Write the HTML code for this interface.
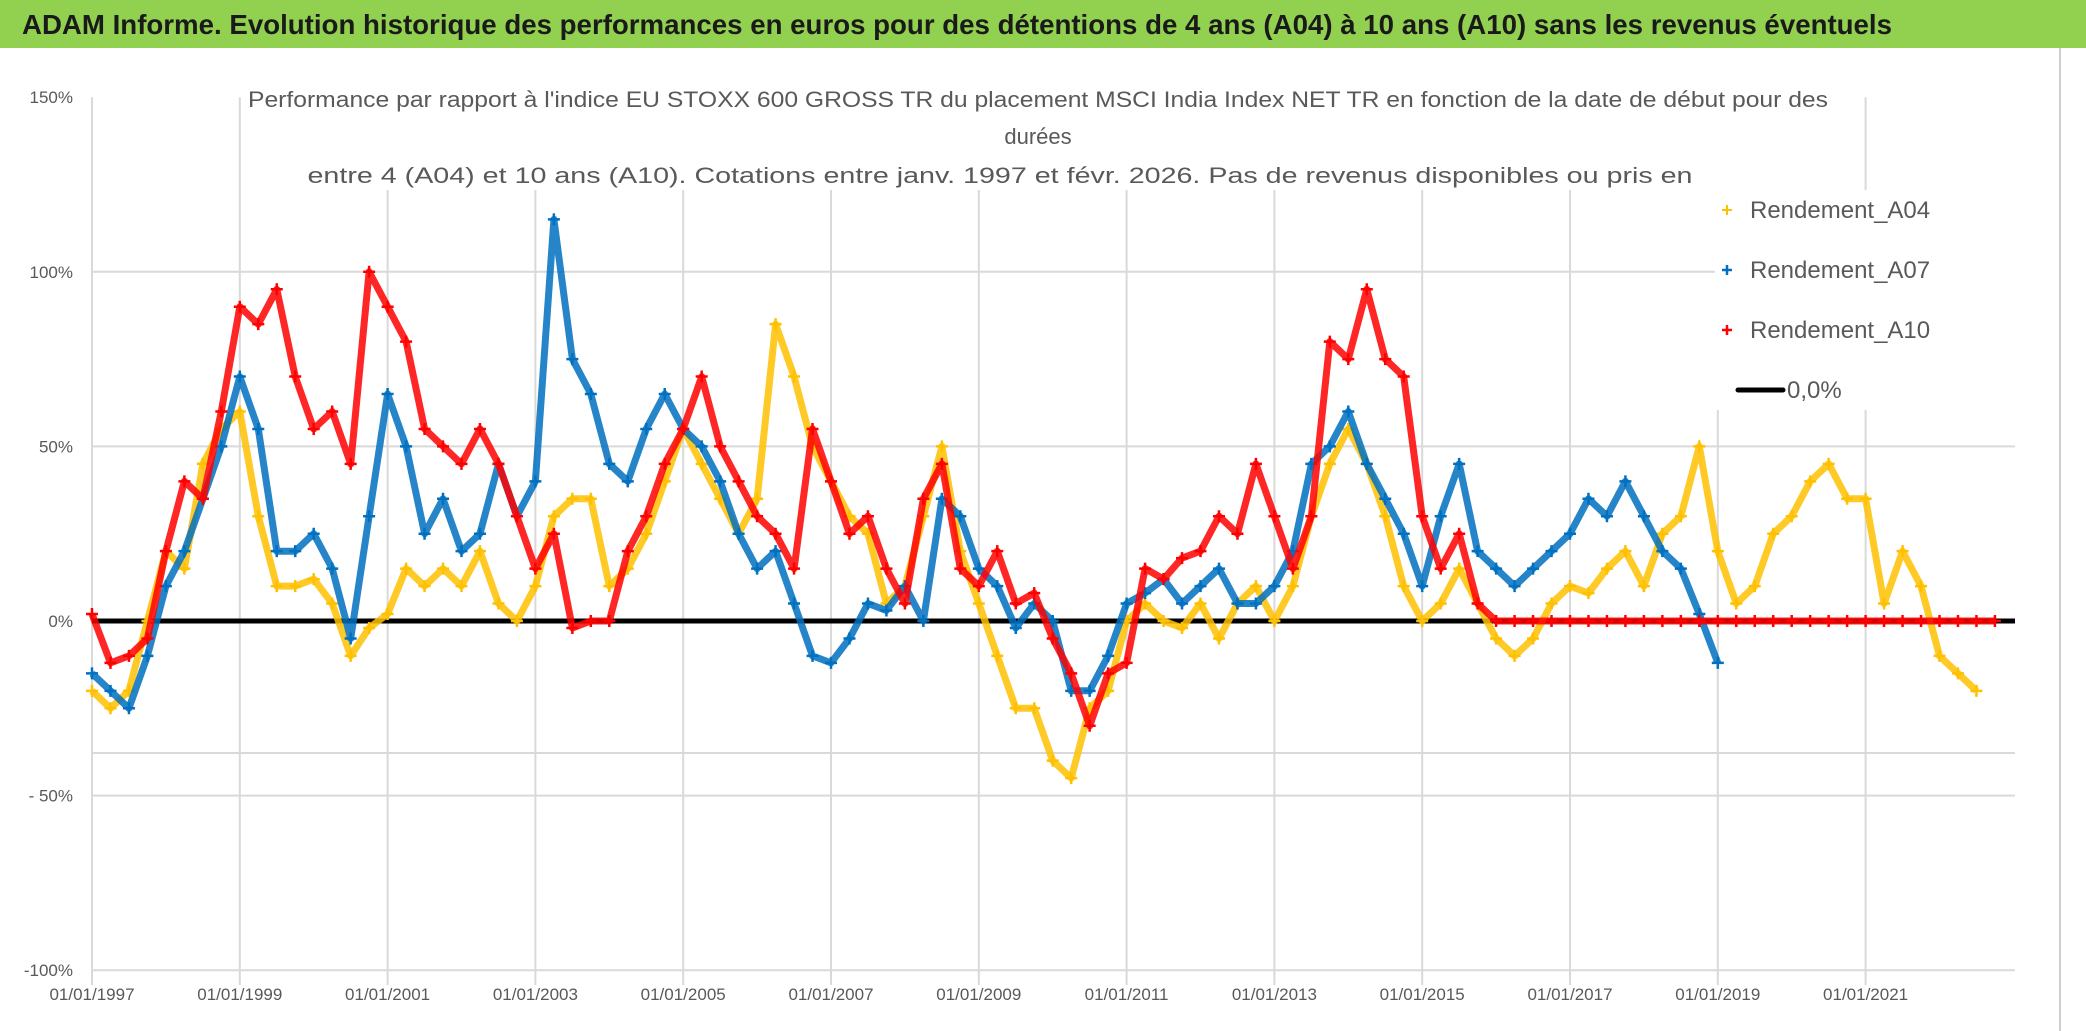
<!DOCTYPE html>
<html><head><meta charset="utf-8"><style>
html,body{margin:0;padding:0;background:#fff;}
svg{display:block;font-family:"Liberation Sans",sans-serif;}
</style></head><body>
<svg id="chart" width="2086" height="1031" viewBox="0 0 2086 1031" xmlns="http://www.w3.org/2000/svg">
<rect x="0" y="0" width="2086" height="1031" fill="#fff"/>
<rect x="0" y="0" width="2086" height="48" fill="#92D050"/>
<text x="22" y="34" font-size="28" font-weight="bold" fill="#1a1a1a" textLength="1870" lengthAdjust="spacingAndGlyphs">ADAM Informe. Evolution historique des performances en euros pour des détentions de 4 ans (A04) à 10 ans (A10) sans les revenus éventuels</text>
<line x1="2060" y1="48" x2="2060" y2="1031" stroke="#cfcfcf" stroke-width="2"/>
<g id="grid"></g>
<g id="yticks"></g>
<g id="xticks"></g>
<g id="series"></g>
<rect x="245" y="82" width="1590" height="108" fill="#fff"/>
<g fill="#595959" font-size="22" text-anchor="middle">
<text x="1038" y="107" textLength="1580" lengthAdjust="spacingAndGlyphs">Performance par rapport à l'indice EU STOXX 600 GROSS TR  du placement MSCI India Index NET TR en fonction de la date de début pour des</text>
<text x="1038" y="144">durées</text>
<text x="1000" y="183" textLength="1385" lengthAdjust="spacingAndGlyphs">entre 4 (A04) et 10 ans (A10). Cotations entre janv. 1997 et févr. 2026. Pas de revenus disponibles ou pris en</text>
</g>
<rect x="1715" y="190" width="300" height="220" fill="#fff"/>
<g font-size="24" fill="#595959">
<g><path d="M1722 210h10M1727 205v10" stroke="#FFC000" stroke-width="2"/><text x="1750" y="218">Rendement_A04</text></g>
<g><path d="M1722 270h10M1727 265v10" stroke="#0070C0" stroke-width="2.5"/><text x="1750" y="278">Rendement_A07</text></g>
<g><path d="M1722 330h10M1727 325v10" stroke="#FF0000" stroke-width="2.5"/><text x="1750" y="338">Rendement_A10</text></g>
<g><line x1="1738" y1="390" x2="1783" y2="390" stroke="#000" stroke-width="5" stroke-linecap="round"/><text x="1787" y="398">0,0%</text></g>
</g>
</svg>
<script>
const startYear = 1997;
const stepYears = 0.25;
const a04Values = [-20,-25,-20,0,20,15,45,55,60,30,10,10,12,5,-10,-2,2,15,10,15,10,20,5,0,10,30,35,35,10,15,25,40,55,45,35,25,35,85,70,50,40,30,25,5,10,30,50,20,5,-10,-25,-25,-40,-45,-25,-20,0,5,0,-2,5,-5,5,10,0,10,30,45,55,45,30,10,0,5,15,5,-5,-10,-5,5,10,8,15,20,10,25,30,50,20,5,10,25,30,40,45,35,35,5,20,10,-10,-15,-20];
const a07Values = [-15,-20,-25,-10,10,20,35,50,70,55,20,20,25,15,-5,30,65,50,25,35,20,25,45,30,40,115,75,65,45,40,55,65,55,50,40,25,15,20,5,-10,-12,-5,5,3,10,0,35,30,15,10,-2,5,0,-20,-20,-10,5,8,12,5,10,15,5,5,10,20,45,50,60,45,35,25,10,30,45,20,15,10,15,20,25,35,30,40,30,20,15,2,-12];
const a10Values = [2,-12,-10,-5,20,40,35,60,90,85,95,70,55,60,45,100,90,80,55,50,45,55,45,30,15,25,-2,0,0,20,30,45,55,70,50,40,30,25,15,55,40,25,30,15,5,35,45,15,10,20,5,8,-5,-15,-30,-15,-12,15,12,18,20,30,25,45,30,15,30,80,75,95,75,70,30,15,25,5,0,0,0,0,0,0,0,0,0,0,0,0,0,0,0,0,0,0,0,0,0,0,0,0,0,0,0,0];
const yTickValues = [150,100,50,0,-50,-100];
const yTickLabels = ["150%","100%","50%","0%","- 50%","-100%"];
const xTickYears = [1997,1999,2001,2003,2005,2007,2009,2011,2013,2015,2017,2019,2021];
const xTickLabels = ["01/01/1997","01/01/1999","01/01/2001","01/01/2003","01/01/2005","01/01/2007","01/01/2009","01/01/2011","01/01/2013","01/01/2015","01/01/2017","01/01/2019","01/01/2021"];

const NS = "http://www.w3.org/2000/svg";
const X0 = 92, PXY = 73.9, XR = 2015;
function xs(yr){ return X0 + (yr - startYear) * PXY; }
function ys(v){ return 621 - v * 174.6 / 50; }
function mk(tag, attrs, parent){ const e = document.createElementNS(NS, tag); for (const k in attrs) e.setAttribute(k, attrs[k]); parent.appendChild(e); return e; }

const grid = document.getElementById('grid');
[100,50,-50,-100,-37.8].forEach(v => {
  const l = mk('line', {x1: X0, x2: XR, y1: ys(v), y2: ys(v), stroke: '#d9d9d9', 'stroke-width': 2}, grid);
  
  
});
xTickYears.forEach(yr => {
  const l = mk('line', {x1: xs(yr), x2: xs(yr), y1: ys(150), y2: 985, stroke: '#d9d9d9', 'stroke-width': 2}, grid);
  
  
});
const yt = document.getElementById('yticks');
yTickValues.forEach((v, i) => {
  const t = mk('text', {x: 73, y: ys(v) + 6, 'font-size': 17, fill: '#595959', 'text-anchor': 'end'}, yt);
  t.textContent = yTickLabels[i];
  
  
});
const xt = document.getElementById('xticks');
xTickYears.forEach((yr, i) => {
  const t = mk('text', {x: xs(yr), y: 1000, 'font-size': 17, fill: '#595959', 'text-anchor': 'middle'}, xt);
  t.textContent = xTickLabels[i];
  
  
});

const ser = document.getElementById('series');
const zl = mk('line', {x1: X0, x2: XR, y1: ys(0), y2: ys(0), stroke: '#000', 'stroke-width': 5}, ser);



function drawSeries(vals, color, name, sw){
  const g = mk('g', {}, ser);
  
  
  const pts = vals.map((v, i) => xs(startYear + i * stepYears).toFixed(1) + ',' + ys(v).toFixed(1)).join(' ');
  mk('polyline', {points: pts, fill: 'none', stroke: color, 'stroke-width': 7, 'stroke-linejoin': 'round', 'stroke-opacity': 0.85}, g);
  vals.forEach((v, i) => {
    const x = xs(startYear + i * stepYears), y = ys(v);
    const p = mk('path', {d: `M${x-6} ${y}h12M${x} ${y-6}v12`, stroke: color, 'stroke-width': sw}, g);
    
    
  });
}
drawSeries(a04Values, '#FFC000', 'series-a04', 2.5);
drawSeries(a07Values, '#0070C0', 'series-a07', 2.5);
drawSeries(a10Values, '#FF0000', 'series-a10', 2.5);
</script>
</body></html>
